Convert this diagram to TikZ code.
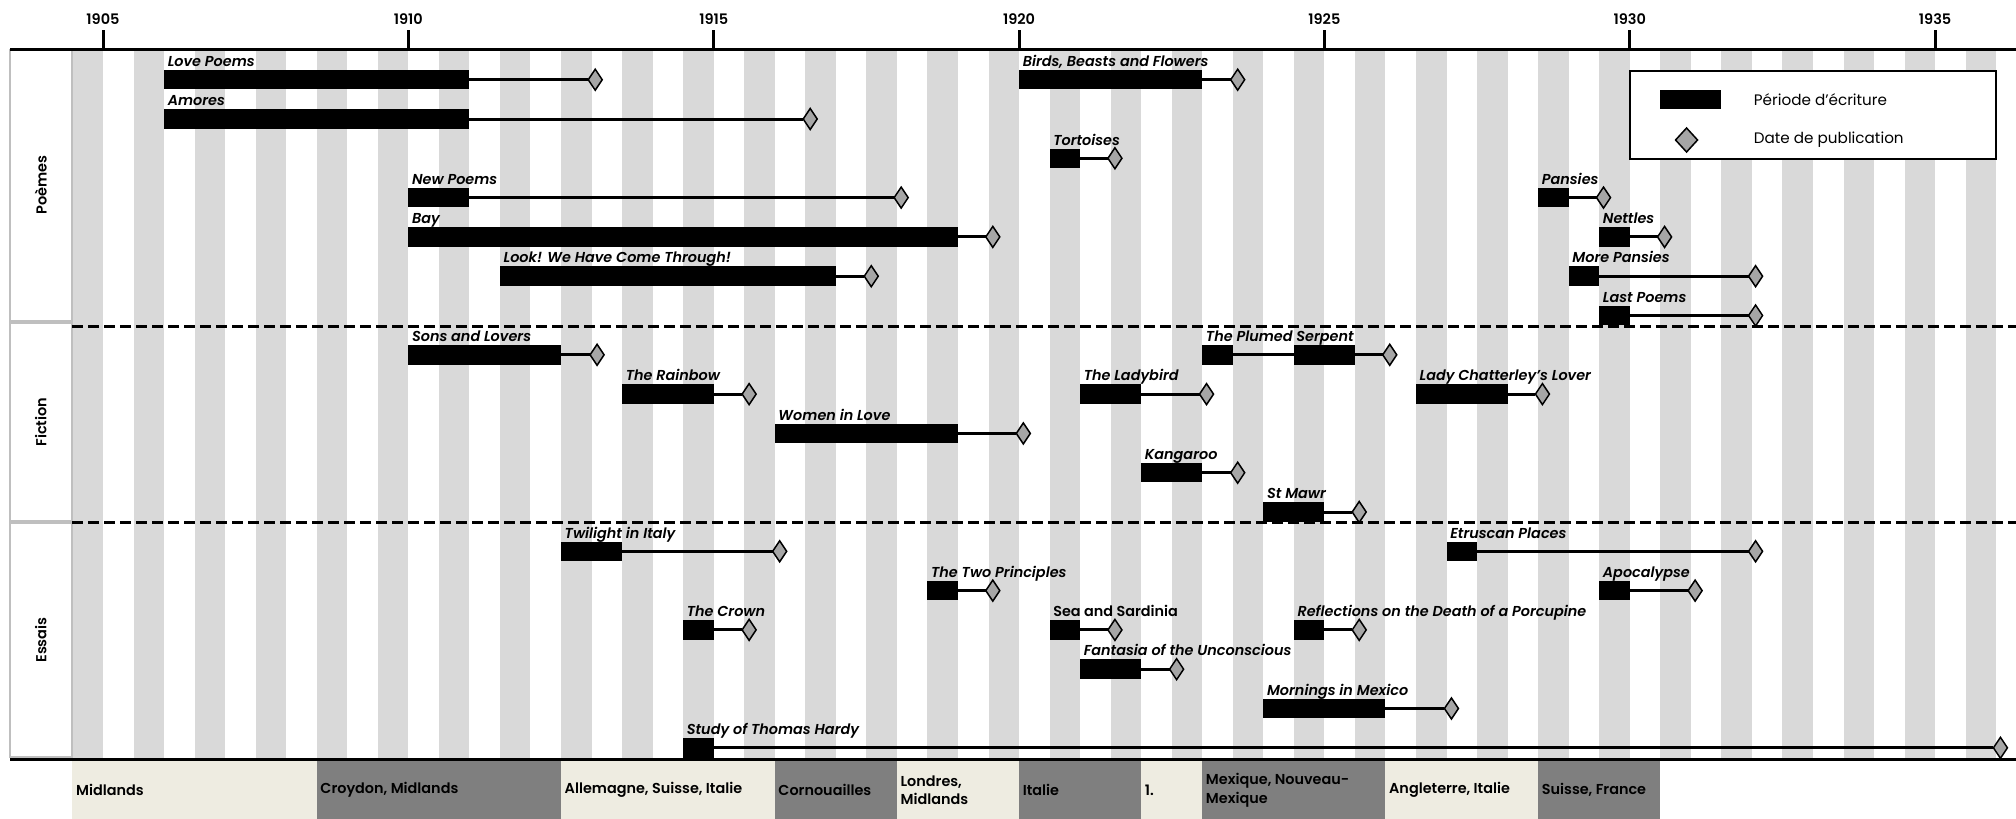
\documentclass[tikz,border=0pt]{standalone}
\usepackage{fontspec}
\setmainfont{Poppins}[BoldFont={Poppins SemiBold}, BoldItalicFont={Poppins SemiBold Italic}]
\usetikzlibrary{shapes.geometric}
\definecolor{stripe}{RGB}{217,217,217}
\definecolor{lightreg}{RGB}{238,236,225}
\definecolor{darkreg}{RGB}{127,127,127}
\definecolor{diafill}{RGB}{166,166,166}
\definecolor{boxline}{RGB}{191,191,191}
% #1 label style, #2 name, #3 row, #4 start, #5 end, #6 publication, #7 title
\newcommand\wrk[7][lbl]{%
  \node[bar, minimum width={(#5-#4)*61.07pt}, anchor=west] (#2) at (#4,{79.7+39.3*#3}) {};
  \node[pubdia] (#2d) at (#6,{79.7+39.3*#3}) {};
  \draw[conn] (#2.east) -- (#2d.west);
  \node[#1] (#2t) at (#2.north west) {#7};
}
\begin{document}
\begin{tikzpicture}[x=61.07pt, y=-1pt,
  bar/.style={rectangle, fill=black, inner sep=0pt, outer sep=0pt, minimum height=19.5pt},
  pubdia/.style={diamond, draw=black, fill=diafill, line width=1.5pt, minimum width=14pt, minimum height=21pt, inner sep=0pt, outer sep=0pt},
  legdia/.style={pubdia, minimum width=22pt, minimum height=24pt},
  conn/.style={line width=3pt},
  lbl/.style={anchor=base west, xshift=3.5pt, yshift=3.5pt, inner sep=0pt, font=\fontsize{14.4}{15}\selectfont\bfseries\itshape},
  lblup/.style={lbl, font=\fontsize{14.4}{15}\selectfont\bfseries},
  seclbl/.style={rotate=90, inner sep=0pt, font=\fontsize{14.5}{16}\selectfont\bfseries},
  yearlbl/.style={inner sep=0pt, font=\fontsize{14.5}{15}\selectfont\bfseries},
  reg/.style={anchor=west, xshift=3.5pt, inner sep=0pt, align=left, font=\fontsize{14.4}{18.5}\selectfont\bfseries},
  legtxt/.style={anchor=west, inner sep=0pt, font=\fontsize{15.2}{16}\selectfont},
  sepline/.style={line width=3pt, dash pattern=on 11pt off 5pt},
  secbox/.style={draw=boxline, line width=2pt}
]
\useasboundingbox (-1.6866,0) rectangle (31.3247,819);
% stripes
\foreach \k in {-1,...,30} \fill[stripe] (\k+0.5,49) rectangle (\k+1,759);
% section boxes
\draw[secbox] (-1.52,50) rectangle (-0.515,321);
\draw[secbox] (-1.52,323) rectangle (-0.515,521);
\draw[secbox] (-1.52,523) rectangle (-0.515,757);
\node[seclbl] (sp) at (-1.02,185) {Poèmes};
\node[seclbl] (sf) at (-1.02,422) {Fiction};
\node[seclbl] (se) at (-1.02,640) {Essais};
% separators
\draw[sepline] (-0.5,326) -- (31.33,326);
\draw[sepline] (-0.5,522) -- (31.33,522);
% region bar
\fill[lightreg] (-0.5,761) rectangle (3.5,819);
\fill[darkreg] (3.5,761) rectangle (7.5,819);
\fill[lightreg] (7.5,761) rectangle (11,819);
\fill[darkreg] (11,761) rectangle (13,819);
\fill[lightreg] (13,761) rectangle (15,819);
\fill[darkreg] (15,761) rectangle (17,819);
\fill[lightreg] (17,761) rectangle (18,819);
\fill[darkreg] (18,761) rectangle (21,819);
\fill[lightreg] (21,761) rectangle (23.5,819);
\fill[darkreg] (23.5,761) rectangle (25.5,819);
\node[reg] (r1) at (-0.5,790) {Midlands};
\node[reg] (r2) at (3.5,790) {Croydon, Midlands};
\node[reg] (r3) at (7.5,790) {Allemagne, Suisse, Italie};
\node[reg] (r4) at (11,790) {Cornouailles};
\node[reg] (r5) at (13,790) {Londres,\\Midlands};
\node[reg] (r6) at (15,790) {Italie};
\node[reg] (r7) at (17,790) {1.};
\node[reg] (r8) at (18,790) {Mexique, Nouveau-\\Mexique};
\node[reg] (r9) at (21,790) {Angleterre, Italie};
\node[reg] (r10) at (23.5,790) {Suisse, France};
% axes
\draw[line width=3pt] (-1.52,49) -- (31.33,49);
\draw[line width=3.5pt] (-1.52,759.5) -- (31.33,759.5);
\foreach \o/\yr in {0/1905,5/1910,10/1915,15/1920,20/1925,25/1930,30/1935}{
  \draw[line width=3pt] (\o,30) -- (\o,49);
  \node[yearlbl] (y\yr) at (\o,19) {\yr};
}
% legend
\draw[line width=2pt, fill=white] (25,71) rectangle (31,159);
\node[bar, minimum width=61.07pt, anchor=west] (legbar) at (25.5,99.5) {};
\node[legdia] (legd) at (25.93,140) {};
\node[legtxt] (legt1) at (27.03,100) {Période d'écriture};
\node[legtxt] (legt2) at (27.03,140) {Date de publication};
% Poèmes
\wrk{lp}{0}{1}{6}{8.06}{Love Poems}
\wrk{am}{1}{1}{6}{11.58}{Amores}
\wrk{bb}{0}{15}{18}{18.58}{Birds, Beasts and Flowers}
\wrk{to}{2}{15.5}{16}{16.57}{Tortoises}
\wrk{np}{3}{5}{6}{13.07}{New Poems}
\wrk{pa}{3}{23.5}{24}{24.57}{Pansies}
\wrk{by}{4}{5}{14}{14.57}{Bay}
\wrk{ne}{4}{24.5}{25}{25.57}{Nettles}
\wrk{lk}{5}{6.5}{12}{12.58}{Look! We Have Come Through!}
\wrk{mp}{5}{24}{24.5}{27.06}{More Pansies}
\wrk{la}{6}{24.5}{25}{27.06}{Last Poems}
% Fiction
\wrk{sl}{7}{5}{7.5}{8.09}{Sons and Lovers}
\wrk{ps}{7}{18}{18.5}{21.07}{The Plumed Serpent}
\node[bar, minimum width=61.07pt, anchor=west] (psb) at (19.5,{79.7+39.3*7}) {};
\wrk{rb}{8}{8.5}{10}{10.58}{The Rainbow}
\wrk{lb}{8}{16}{17}{18.07}{The Ladybird}
\wrk{lc}{8}{21.5}{23}{23.57}{Lady Chatterley's Lover}
\wrk{wl}{9}{11}{14}{15.07}{Women in Love}
\wrk{ka}{10}{17}{18}{18.58}{Kangaroo}
\wrk{sm}{11}{19}{20}{20.57}{St Mawr}
% Essais
\wrk{ti}{12}{7.5}{8.5}{11.08}{Twilight in Italy}
\wrk{ep}{12}{22}{22.5}{27.06}{Etruscan Places}
\wrk{tp}{13}{13.5}{14}{14.57}{The Two Principles}
\wrk{ap}{13}{24.5}{25}{26.07}{Apocalypse}
\wrk{cr}{14}{9.5}{10}{10.58}{The Crown}
\wrk[lblup]{ss}{14}{15.5}{16}{16.57}{Sea and Sardinia}
\wrk{rf}{14}{19.5}{20}{20.57}{Reflections on the Death of a Porcupine}
\wrk{fa}{15}{16}{17}{17.58}{Fantasia of the Unconscious}
\wrk{mm}{16}{19}{21}{22.08}{Mornings in Mexico}
\wrk{th}{17}{9.5}{10}{31.07}{Study of Thomas Hardy}
\end{tikzpicture}
\end{document}
